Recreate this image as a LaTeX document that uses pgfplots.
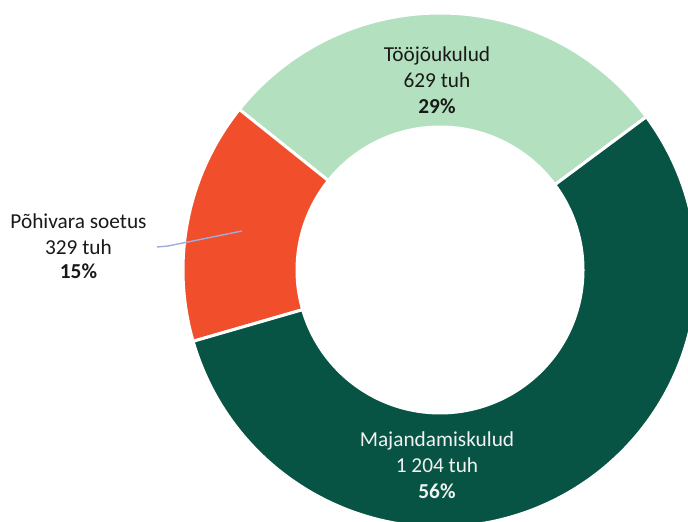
\documentclass[border=0pt]{standalone}
\usepackage{pgfplots}
\usepackage{pgfplotstable}
\pgfplotsset{compat=1.18}
\usepackage{fontspec}
\setmainfont{Carlito}
\definecolor{cTJ}{HTML}{B3E1BF}
\definecolor{cPV}{HTML}{F14E2B}
\definecolor{cMK}{HTML}{075444}
\definecolor{leader}{HTML}{9EADDB}
\pgfplotstableread{
name value col
Toojoukulud 629 cTJ
Pohivara 329 cPV
Majandamiskulud 1204 cMK
}\piedata
\begin{document}
\begin{tikzpicture}
\begin{axis}[
  scale only axis, width=688pt, height=522pt,
  xmin=0, xmax=688, ymin=0, ymax=522,
  hide axis, clip=true,
]
\pgfmathsetmacro\cx{440}
\pgfmathsetmacro\cy{252}
\def\Ro{257}
\def\Ri{143}
\def\total{2162}
\xdef\start{36.6}
\pgfplotsforeachungrouped \i in {0,1,2}{%
  \pgfplotstablegetelem{\i}{value}\of\piedata \let\v\pgfplotsretval
  \pgfplotstablegetelem{\i}{col}\of\piedata \let\c\pgfplotsretval
  \pgfmathsetmacro\endang{\start+\v/\total*360}%
  \pgfmathsetmacro\xa{\cx+\Ro*cos(\start)}%
  \pgfmathsetmacro\ya{\cy+\Ro*sin(\start)}%
  \pgfmathsetmacro\xb{\cx+\Ri*cos(\endang)}%
  \pgfmathsetmacro\yb{\cy+\Ri*sin(\endang)}%
  \edef\temp{\noexpand\fill[\c, draw=white, line width=3pt, line join=miter]
    (axis cs:\xa,\ya) arc[start angle=\start, end angle=\endang, radius=\Ro pt]
    -- (axis cs:\xb,\yb) arc[start angle=\endang, end angle=\start, radius=\Ri pt] -- cycle;}%
  \temp
  \xdef\start{\endang}%
}
\addplot[leader, line width=1.4pt, mark=none] coordinates {(157,275) (168,276) (242,291)};
\begin{scope}[every node/.style={anchor=base, inner sep=0pt, font=\fontsize{21.3}{25.5}\selectfont}]
\node[text=black!90] at (axis cs:437,460.3) {Tööjõukulud};
\node[text=black!90] at (axis cs:437,434.7) {629 tuh};
\node[text=black!90] at (axis cs:437,408.7) {\bfseries 29\%};
\node[text=white!95!black] at (axis cs:437,75) {Majandamiskulud};
\node[text=white!95!black] at (axis cs:437,49) {1 204 tuh};
\node[text=white!95!black] at (axis cs:437,23) {\bfseries 56\%};
\node[text=black!90] at (axis cs:78.5,293.7) {Põhivara soetus};
\node[text=black!90] at (axis cs:78.5,267) {329 tuh};
\node[text=black!90] at (axis cs:78.5,243) {\bfseries 15\%};
\end{scope}
\end{axis}
\pgfresetboundingbox
\path[use as bounding box] (current axis.south west) rectangle (current axis.north east);
\end{tikzpicture}
\end{document}
